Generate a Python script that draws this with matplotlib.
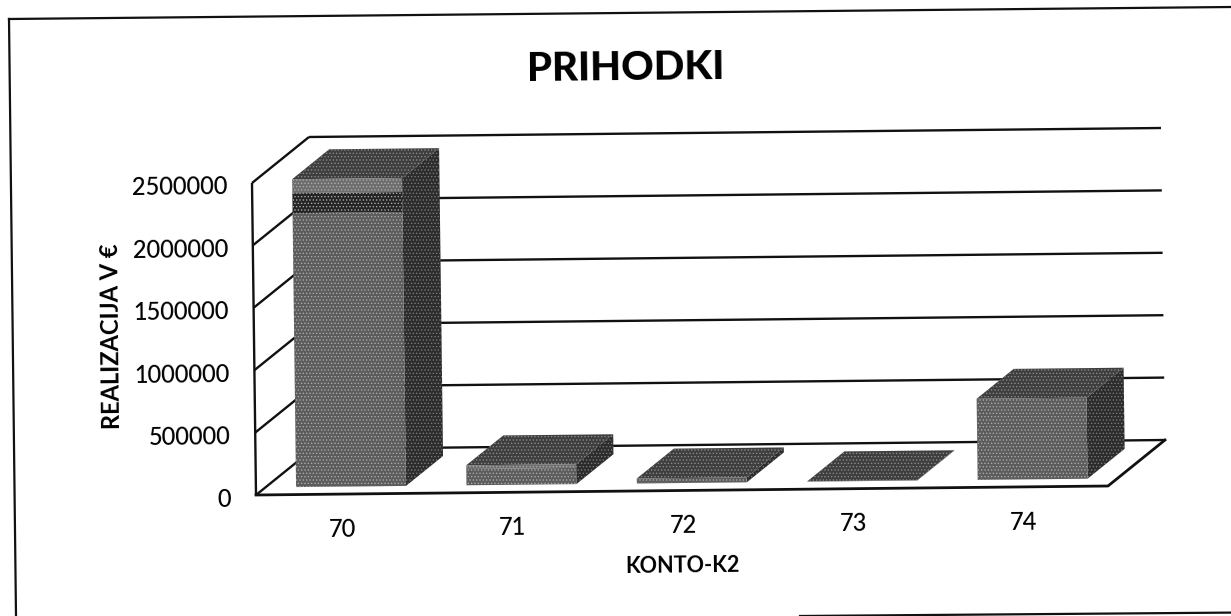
from matplotlib import pyplot as plt
import matplotlib
from matplotlib.patches import Polygon

matplotlib.rcParams['hatch.linewidth'] = 0.6
matplotlib.rc('font', family=['Lato', 'DejaVu Sans'])

categories = ["70", "71", "72", "73", "74"]
# stacked parts of each bar, read from the front faces
low_part = [2195000, 130000, 40000, 3000, 650000]
mid_part = [160000, 0, 0, 0, 0]
top_part = [112000, 30000, 0, 0, 0]
y_ticks = [0, 500000, 1000000, 1500000, 2000000, 2500000]

low_col, mid_col, top_col = '#5c5c5c', '#242424', '#6e6e6e'
side_col, roof_col = '#2c2c2c', '#3e3e3e'
tilt = 0.6  # the page was scanned a bit crooked


def project(u, v, d=0):
    """category position, value, depth -> picture pixels"""
    px = 256 + u * 170.4 - v / 2500000 * 4 + d * 57
    py = 495 - u * 1.8 - v / 2500000 * 312 - d * 46
    return px, py


def face(ax, pts, col, edge='#aaaaaa', z=3):
    ax.add_patch(Polygon(pts, closed=True, facecolor=col, edgecolor=edge,
                         hatch='.....', linewidth=0, zorder=z))


def draw_bar(ax, i, parts, cols):
    u0, u1 = i + 0.18, i + 0.825
    d0, d1 = 0.165, 0.815
    total = sum(parts)
    face(ax, [project(u1, 0, d0), project(u1, 0, d1), project(u1, total, d1), project(u1, total, d0)],
         side_col, edge='#7a7a7a')
    face(ax, [project(u0, total, d0), project(u1, total, d0), project(u1, total, d1), project(u0, total, d1)],
         roof_col, edge='#8a8a8a')
    base = 0
    for part, col in zip(parts, cols):
        if part > 0:
            face(ax, [project(u0, base, d0), project(u1, base, d0),
                      project(u1, base + part, d0), project(u0, base + part, d0)], col)
        base += part


fig = plt.figure(figsize=(12.31, 6.16), dpi=100)
ax = fig.add_axes([0, 0, 1, 1])
ax.set_xlim(0, 1231)
ax.set_ylim(616, 0)
ax.axis('off')

# scanned outer frame
frame = dict(color='#111111', lw=1.6, zorder=1)
ax.plot([9, 1231], [19, 7], **frame)
ax.plot([9, 16], [19, 616], **frame)
ax.plot([800, 1231], [616, 612.6], **frame)

# walls and floor
line = dict(color='#111111', lw=1.7, zorder=2, solid_capstyle='butt')
for t in y_ticks:
    fx, fy = project(0, t)
    bx, by = project(0, t, 1)
    ex, ey = project(5, t, 1)
    ax.plot([fx, bx], [fy, by], **line)
    ax.plot([bx, ex], [by, ey], **line)
    ax.text(fx - 25, fy + 4, f"{t}", ha='right', va='center', fontsize=17, fontweight='medium', color='#000000',
            rotation=tilt, rotation_mode='anchor')
x0, y0 = project(0, 0)
x1, y1 = project(0, y_ticks[-1])
ax.plot([x0, x1], [y0, y1], **line)
x2, y2 = project(5, 0)
x3, y3 = project(5, 0, 1)
ax.plot([x0, x2, x3], [y0, y2, y3], color='#111111', lw=2, zorder=2)

for i, name in enumerate(categories):
    draw_bar(ax, i, [low_part[i], mid_part[i], top_part[i]], [low_col, mid_col, top_col])
    tx, ty = project(i + 0.5, 0)
    ax.text(tx + 1, ty + 35, name, ha='center', va='center', fontsize=17, fontweight='medium', color='#000000',
            rotation=tilt, rotation_mode='anchor')

ax.text(626, 68, "PRIHODKI", ha='center', va='center', fontsize=29, fontweight='black', color='#000000',
        rotation=tilt, rotation_mode='anchor')
ax.text(682, 566, "KONTO-K2", ha='center', va='center', fontsize=15.5, fontweight='bold', color='#000000',
        rotation=tilt, rotation_mode='anchor')
ax.text(112, 336, "REALIZACIJA V €", ha='center', va='center', fontsize=17, fontweight='bold', color='#000000',
        rotation=90 + tilt, rotation_mode='anchor')

plt.savefig("out.png", dpi=100)
